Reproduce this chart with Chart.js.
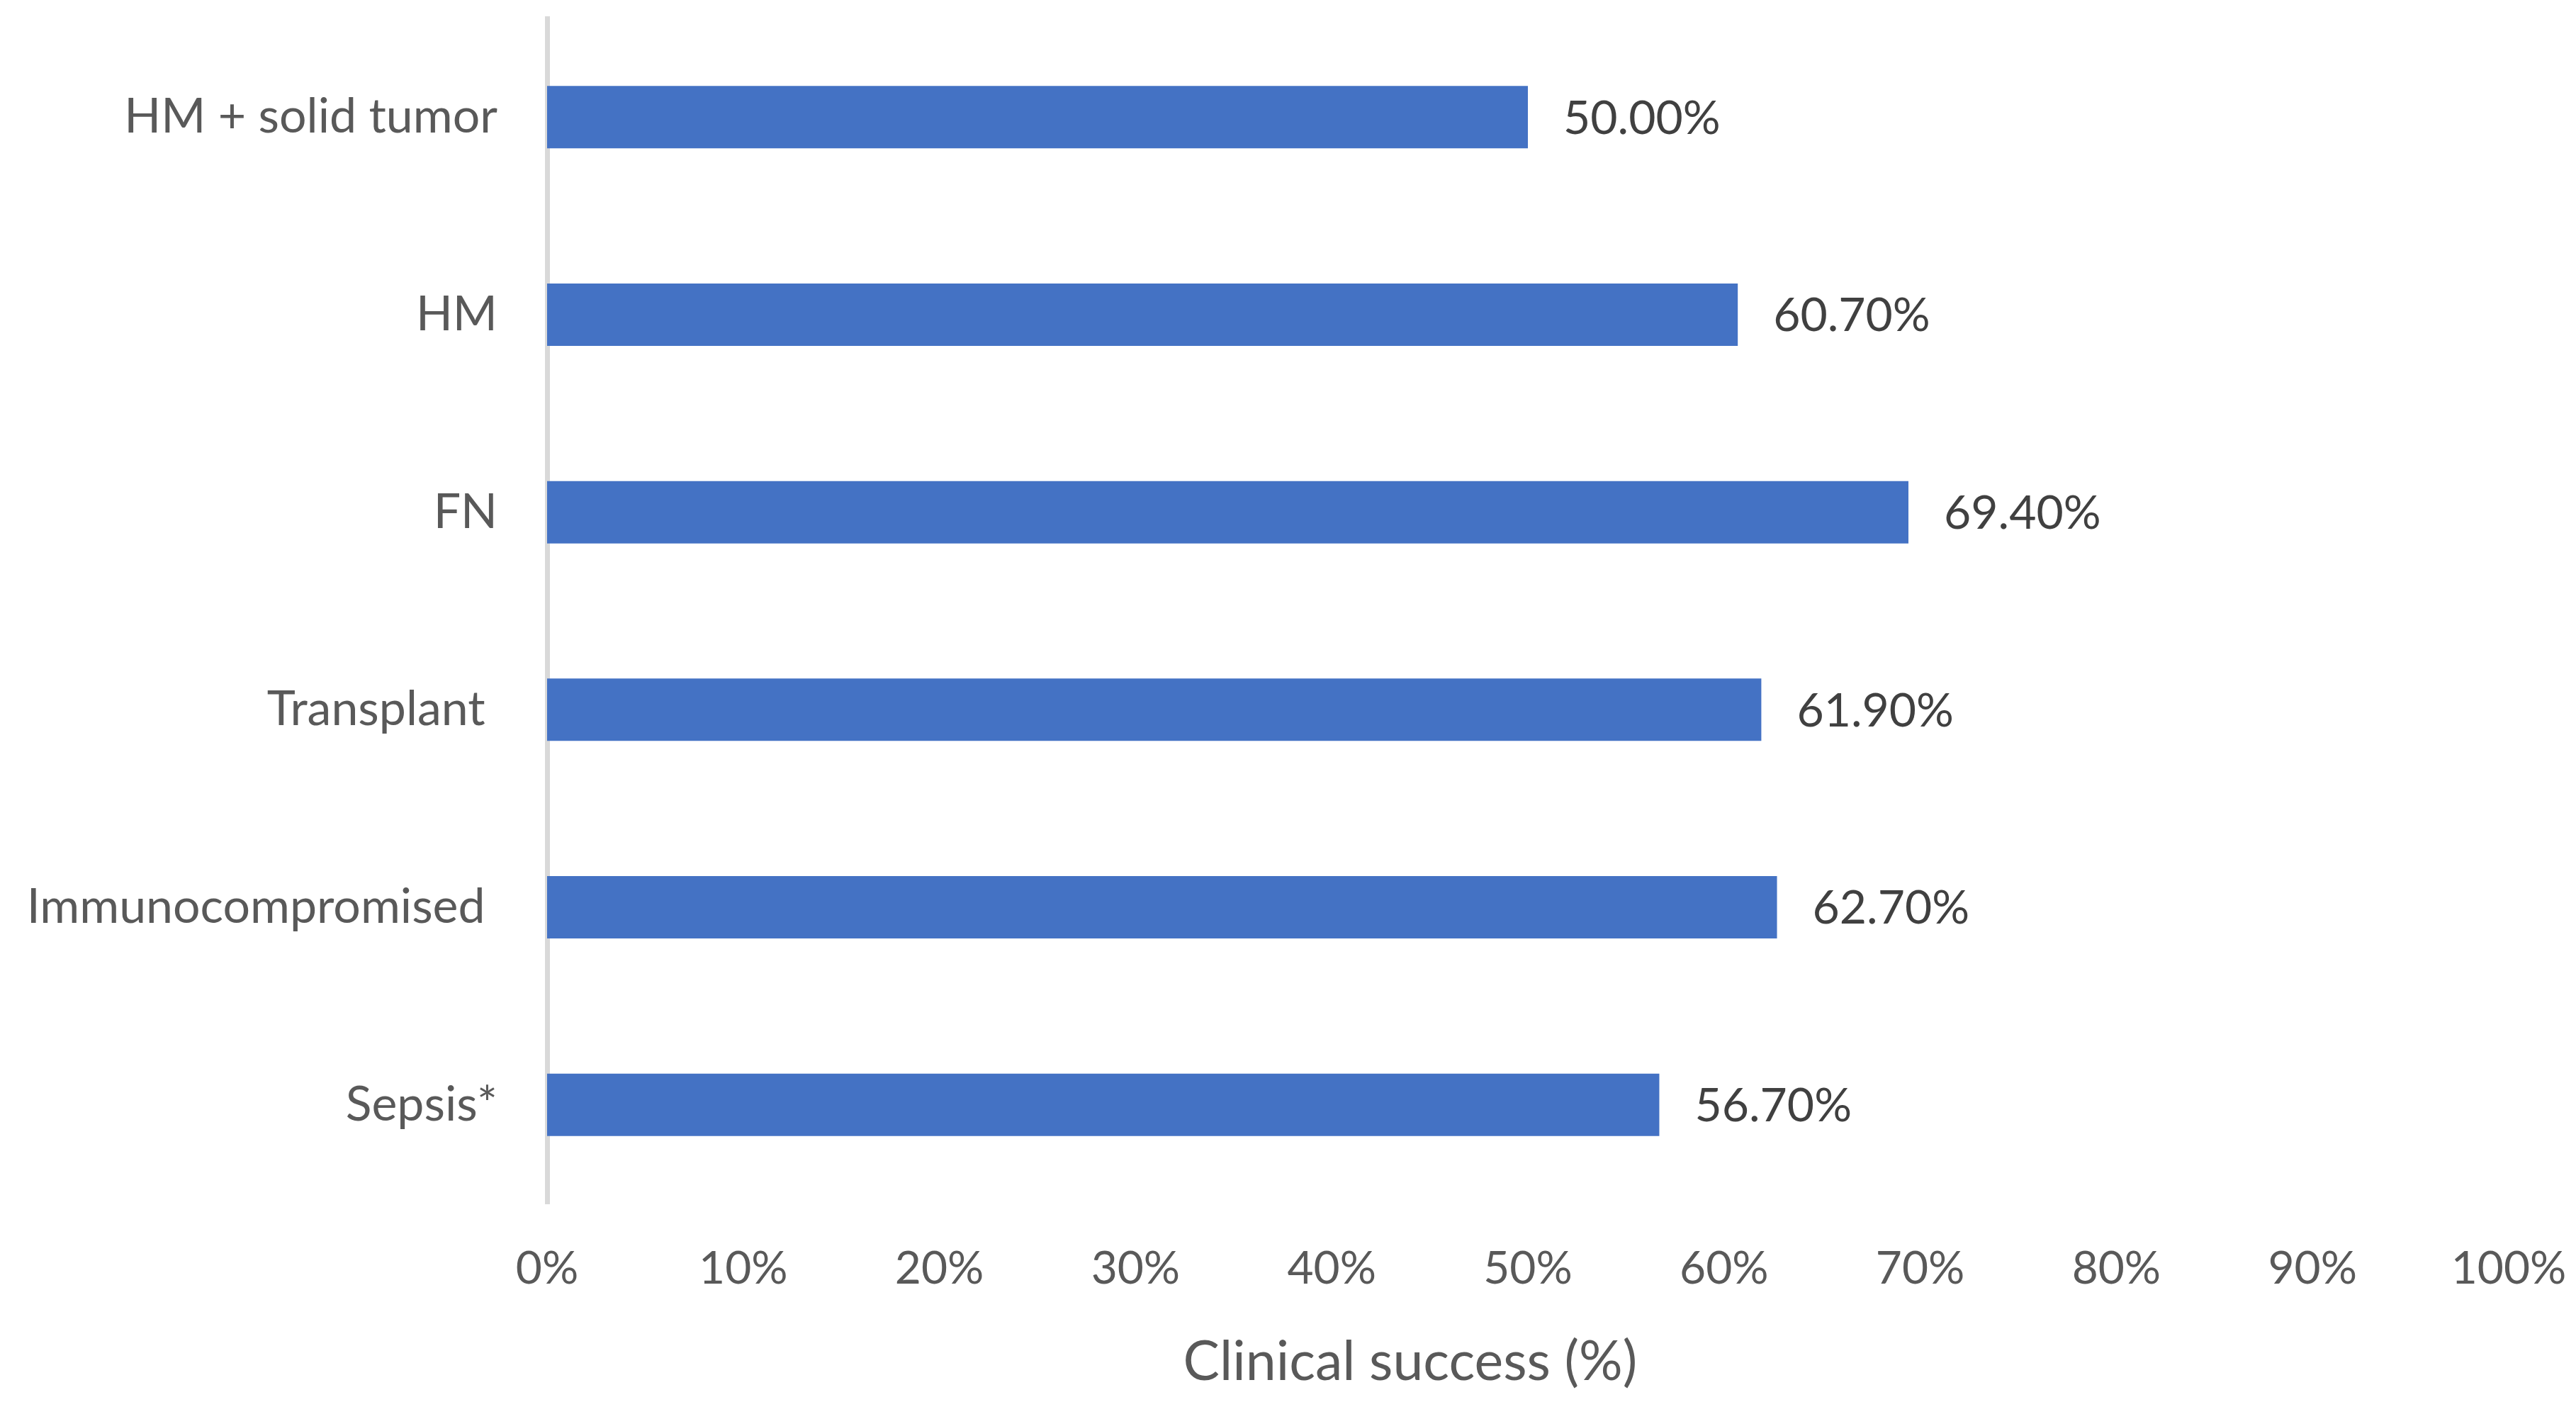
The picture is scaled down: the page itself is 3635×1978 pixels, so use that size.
<!DOCTYPE html>
<html>
<head>
<meta charset="utf-8">
<script src="https://cdn.jsdelivr.net/npm/chart.js@4"></script>
<style>
  html, body { margin: 0; padding: 0; background: #fff; }
  #wrap { width: 3635px; height: 1978px; position: relative; }
</style>
</head>
<body>
<div id="wrap"><canvas id="myChart"></canvas></div>
<script>
// categories top to bottom, values in %
const categories = ["HM + solid tumor", "HM", "FN", "Transplant ", "Immunocompromised ", "Sepsis*"];
const successValues = [50.0, 60.7, 69.4, 61.9, 62.7, 56.7];
const xTicks = [0, 10, 20, 30, 40, 50, 60, 70, 80, 90, 100];
const xTitle = "Clinical success (%)";

const fontFamily = "Lato, 'Open Sans', sans-serif";

// value labels at the bar ends + axis title
const barLabels = {
  id: "barLabels",
  afterDatasetsDraw(chart) {
    const ctx = chart.ctx;
    const meta = chart.getDatasetMeta(0);
    ctx.save();
    ctx.font = "66px " + fontFamily;
    ctx.fillStyle = "#404040";
    ctx.textAlign = "left";
    ctx.textBaseline = "middle";
    meta.data.forEach((bar, i) => {
      ctx.fillText(successValues[i].toFixed(2) + "%", bar.x + 50, bar.y + 2);
    });
    ctx.restore();
  },
  afterDraw(chart) {
    const ctx = chart.ctx;
    ctx.save();
    ctx.font = "77px " + fontFamily;
    ctx.fillStyle = "#595959";
    ctx.textAlign = "center";
    ctx.textBaseline = "middle";
    ctx.fillText(xTitle, 1990, 1922);
    ctx.restore();
  }
};

function noPad(scale) {
  scale.paddingTop = 0;
  scale.paddingBottom = 0;
  scale.paddingLeft = 0;
  scale.paddingRight = 0;
}

const ctxChart = document.getElementById("myChart");
let myChart = new Chart(ctxChart, {
  type: "bar",
  data: {
    labels: categories,
    datasets: [
      {
        label: "Clinical success",
        data: successValues,
        backgroundColor: "#4472C4",
        barPercentage: 0.316,
        categoryPercentage: 1.0,
      },
    ],
  },
  plugins: [barLabels],
  options: {
    indexAxis: "y",
    responsive: true,
    maintainAspectRatio: false,
    devicePixelRatio: 1,
    animation: false,
    layout: { padding: { top: 26, right: 95, left: 0, bottom: 0 } },
    plugins: {
      legend: { display: false },
      tooltip: { enabled: false },
    },
    scales: {
      x: {
        min: 0,
        max: 100,
        afterBuildTicks: (scale) => {
          scale.ticks = xTicks.map((v) => ({ value: v }));
        },
        afterFit: (scale) => { scale.height = 280; noPad(scale); },
        grid: { display: false, drawTicks: false },
        border: { display: false },
        ticks: {
          padding: 54,
          color: "#595959",
          font: { family: fontFamily, size: 64 },
          maxRotation: 0,
          callback: (v) => v + "%",
        },
      },
      y: {
        z: 1,
        afterFit: (scale) => { scale.width = 772; noPad(scale); },
        grid: { display: false, drawTicks: false },
        border: { display: true, color: "#d9d9d9", width: 7 },
        ticks: {
          padding: 70,
          color: "#595959",
          font: { family: fontFamily, size: 68 },
        },
      },
    },
  },
});
</script>
</body>
</html>
